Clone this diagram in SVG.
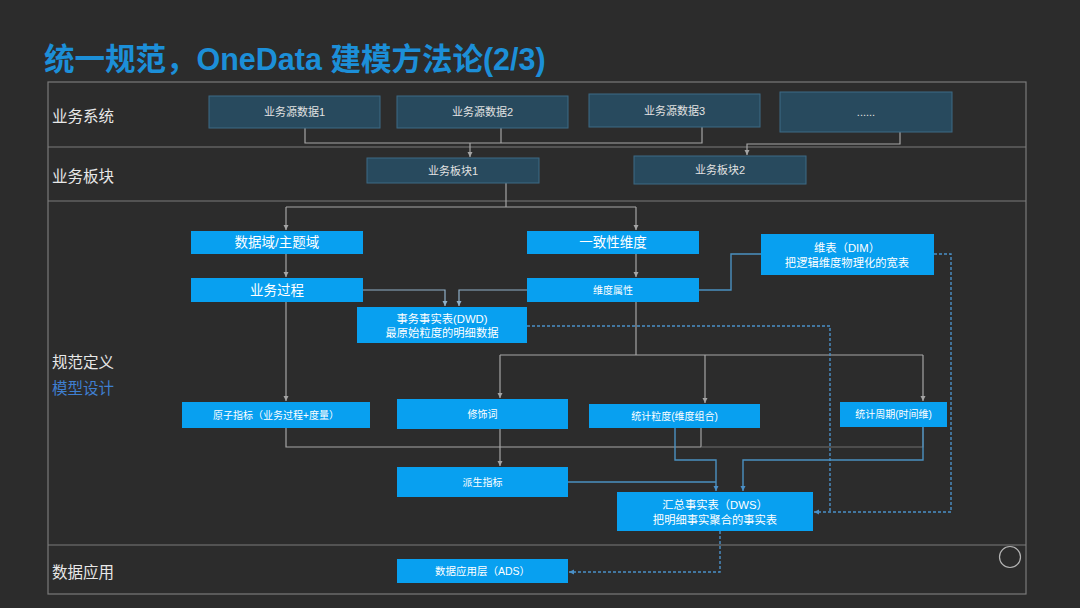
<svg xmlns="http://www.w3.org/2000/svg" width="1080" height="608" viewBox="0 0 1080 608">
<defs>
<style>
text{font-family:"Liberation Sans","Noto Sans CJK SC",sans-serif;text-anchor:middle;dominant-baseline:central}
.title{font-size:30.5px;font-weight:bold;fill:#1c8fd8;text-anchor:start;dominant-baseline:alphabetic}
.lane{font-size:15.5px;fill:#e8e8e8;text-anchor:start}
.frame{fill:none;stroke:#7a7a7a;stroke-width:1.2}
.dark rect{fill:#284a5e;stroke:#3d6a85;stroke-width:1}
.dark text{font-size:11px;fill:#e2e2e2}
.blue rect{fill:#08a0f0}
.blue text{fill:#ffffff;font-size:10px}
.big text{font-size:13.5px}
.mid text{font-size:11.3px}
.g{fill:none;stroke:#a5a5a5;stroke-width:1.2}
.gb{fill:none;stroke:#8fb0c8;stroke-width:1.2}
.b{fill:none;stroke:#4a90c0;stroke-width:1.4}
.d{fill:none;stroke:#4a90c8;stroke-width:1.4;stroke-dasharray:3 2}
</style>
<marker id="ag" markerWidth="6" markerHeight="6" refX="5" refY="3" orient="auto" markerUnits="userSpaceOnUse"><path d="M0,0.5 L5,3 L0,5.5 z" fill="#a5a5a5"/></marker>
<marker id="agb" markerWidth="6" markerHeight="6" refX="5" refY="3" orient="auto" markerUnits="userSpaceOnUse"><path d="M0,0.5 L5,3 L0,5.5 z" fill="#8fb0c8"/></marker>
<marker id="ab" markerWidth="6" markerHeight="6" refX="5" refY="3" orient="auto" markerUnits="userSpaceOnUse"><path d="M0,0.5 L5,3 L0,5.5 z" fill="#4a90c8"/></marker>
</defs>
<rect width="1080" height="608" fill="#2c2c2c"/>
<text class="title" x="44" y="70">统一规范，OneData 建模方法论(2/3)</text>

<g id="lanes">
<rect class="frame" x="48" y="82" width="978" height="512"/>
<line class="frame" x1="48" y1="147" x2="1026" y2="147"/>
<line class="frame" x1="48" y1="201" x2="1026" y2="201"/>
<line class="frame" x1="48" y1="545" x2="1026" y2="545"/>
<text class="lane" x="52" y="116">业务系统</text>
<text class="lane" x="52" y="176">业务板块</text>
<text class="lane" x="52" y="362">规范定义</text>
<text class="lane" x="52" y="388" style="fill:#3f7fd0">模型设计</text>
<text class="lane" x="52" y="572">数据应用</text>
</g>

<g id="connectors">
<path class="g" d="M305,128 V143 H702 V127"/>
<path class="g" d="M501,128 V143"/>
<path class="g" d="M470,143 V157" marker-end="url(#ag)"/>
<path class="g" d="M900,132 V144 H747 V155" marker-end="url(#ag)"/>
<path class="g" d="M506,183 V207"/>
<path class="g" d="M286,207 H636"/>
<path class="g" d="M286,207 V230" marker-end="url(#ag)"/>
<path class="g" d="M636,207 V230" marker-end="url(#ag)"/>
<path class="g" d="M286,254 V277" marker-end="url(#ag)"/>
<path class="g" d="M286,302 V401" marker-end="url(#ag)"/>
<path class="g" d="M636,254 V277" marker-end="url(#ag)"/>
<path class="gb" d="M363,290 H445 V306" marker-end="url(#agb)"/>
<path class="gb" d="M527,290 H459 V306" marker-end="url(#agb)"/>
<path class="b" d="M699,290 H731 V254 H761"/>
<path class="g" d="M636,302 V355"/>
<path class="g" d="M500,355 H923"/>
<path class="g" d="M500,355 V398" marker-end="url(#ag)"/>
<path class="g" d="M705,355 V403" marker-end="url(#ag)"/>
<path class="g" d="M923,355 V401" marker-end="url(#ag)"/>
<path class="g" d="M286,428 V447 H701"/>
<path class="g" d="M701,428 V447"/>
<path class="g" d="M701,447 H923 V427" style="stroke:#6f6f6f"/>
<path class="g" d="M500,429 V466" marker-end="url(#ag)"/>
<path class="b" d="M675,428 V460 H716 V491" marker-end="url(#ab)"/>
<path class="b" d="M923,427 V460 H743 V491" marker-end="url(#ab)"/>
<path class="b" d="M568,482 H716"/>
<path class="d" d="M527,326 H830 V512"/>
<path class="d" d="M934,254 H951 V512 H814" marker-end="url(#ab)"/>
<path class="d" d="M720,531 V572 H569" marker-end="url(#ab)"/>
</g>

<g id="src1" class="dark"><rect x="209" y="96" width="171" height="32"/><text x="294.5" y="112">业务源数据1</text></g>
<g id="src2" class="dark"><rect x="397" y="96" width="171" height="32"/><text x="482.5" y="112">业务源数据2</text></g>
<g id="src3" class="dark"><rect x="589" y="94" width="171" height="33"/><text x="674.5" y="110.5">业务源数据3</text></g>
<g id="src4" class="dark"><rect x="780" y="92" width="172" height="40"/><text x="866" y="112">......</text></g>
<g id="seg1" class="dark"><rect x="367" y="158" width="172" height="25"/><text x="453" y="170.5">业务板块1</text></g>
<g id="seg2" class="dark"><rect x="634" y="156" width="172" height="28"/><text x="720" y="170">业务板块2</text></g>

<g id="domain" class="blue big"><rect x="191" y="231" width="172" height="23"/><text x="277" y="242.5">数据域/主题域</text></g>
<g id="process" class="blue big"><rect x="191" y="278" width="172" height="24"/><text x="277" y="290">业务过程</text></g>
<g id="dim" class="blue big"><rect x="527" y="231" width="172" height="23"/><text x="613" y="242.5">一致性维度</text></g>
<g id="attr" class="blue"><rect x="527" y="278" width="172" height="24"/><text x="613" y="290">维度属性</text></g>
<g id="dimtable" class="blue mid"><rect x="761" y="234" width="173" height="41"/><text x="847" y="248">维表（DIM）</text><text x="847" y="263">把逻辑维度物理化的宽表</text></g>
<g id="dwd" class="blue mid"><rect x="357" y="307" width="170" height="36"/><text x="442" y="318.5">事务事实表(DWD)</text><text x="442" y="333">最原始粒度的明细数据</text></g>
<g id="atomic" class="blue"><rect x="182" y="402" width="188" height="26"/><text x="276" y="415">原子指标（业务过程+度量）</text></g>
<g id="modifier" class="blue"><rect x="397" y="399" width="171" height="30"/><text x="482.5" y="414">修饰词</text></g>
<g id="grain" class="blue"><rect x="589" y="404" width="171" height="24"/><text x="674.5" y="416">统计粒度(维度组合)</text></g>
<g id="period" class="blue"><rect x="840" y="402" width="107" height="25"/><text x="893.5" y="414.5">统计周期(时间维)</text></g>
<g id="derived" class="blue"><rect x="397" y="467" width="171" height="30"/><text x="482.5" y="482">派生指标</text></g>
<g id="dws" class="blue mid"><rect x="617" y="492" width="196" height="39"/><text x="715" y="505">汇总事实表（DWS）</text><text x="715" y="519.5">把明细事实聚合的事实表</text></g>
<g id="ads" class="blue"><rect x="397" y="559" width="171" height="24"/><text x="482.5" y="571" style="font-size:10.5px">数据应用层（ADS）</text></g>

<circle cx="1010" cy="557" r="10.5" fill="none" stroke="#b5b5b5" stroke-width="1.2"/>
</svg>
